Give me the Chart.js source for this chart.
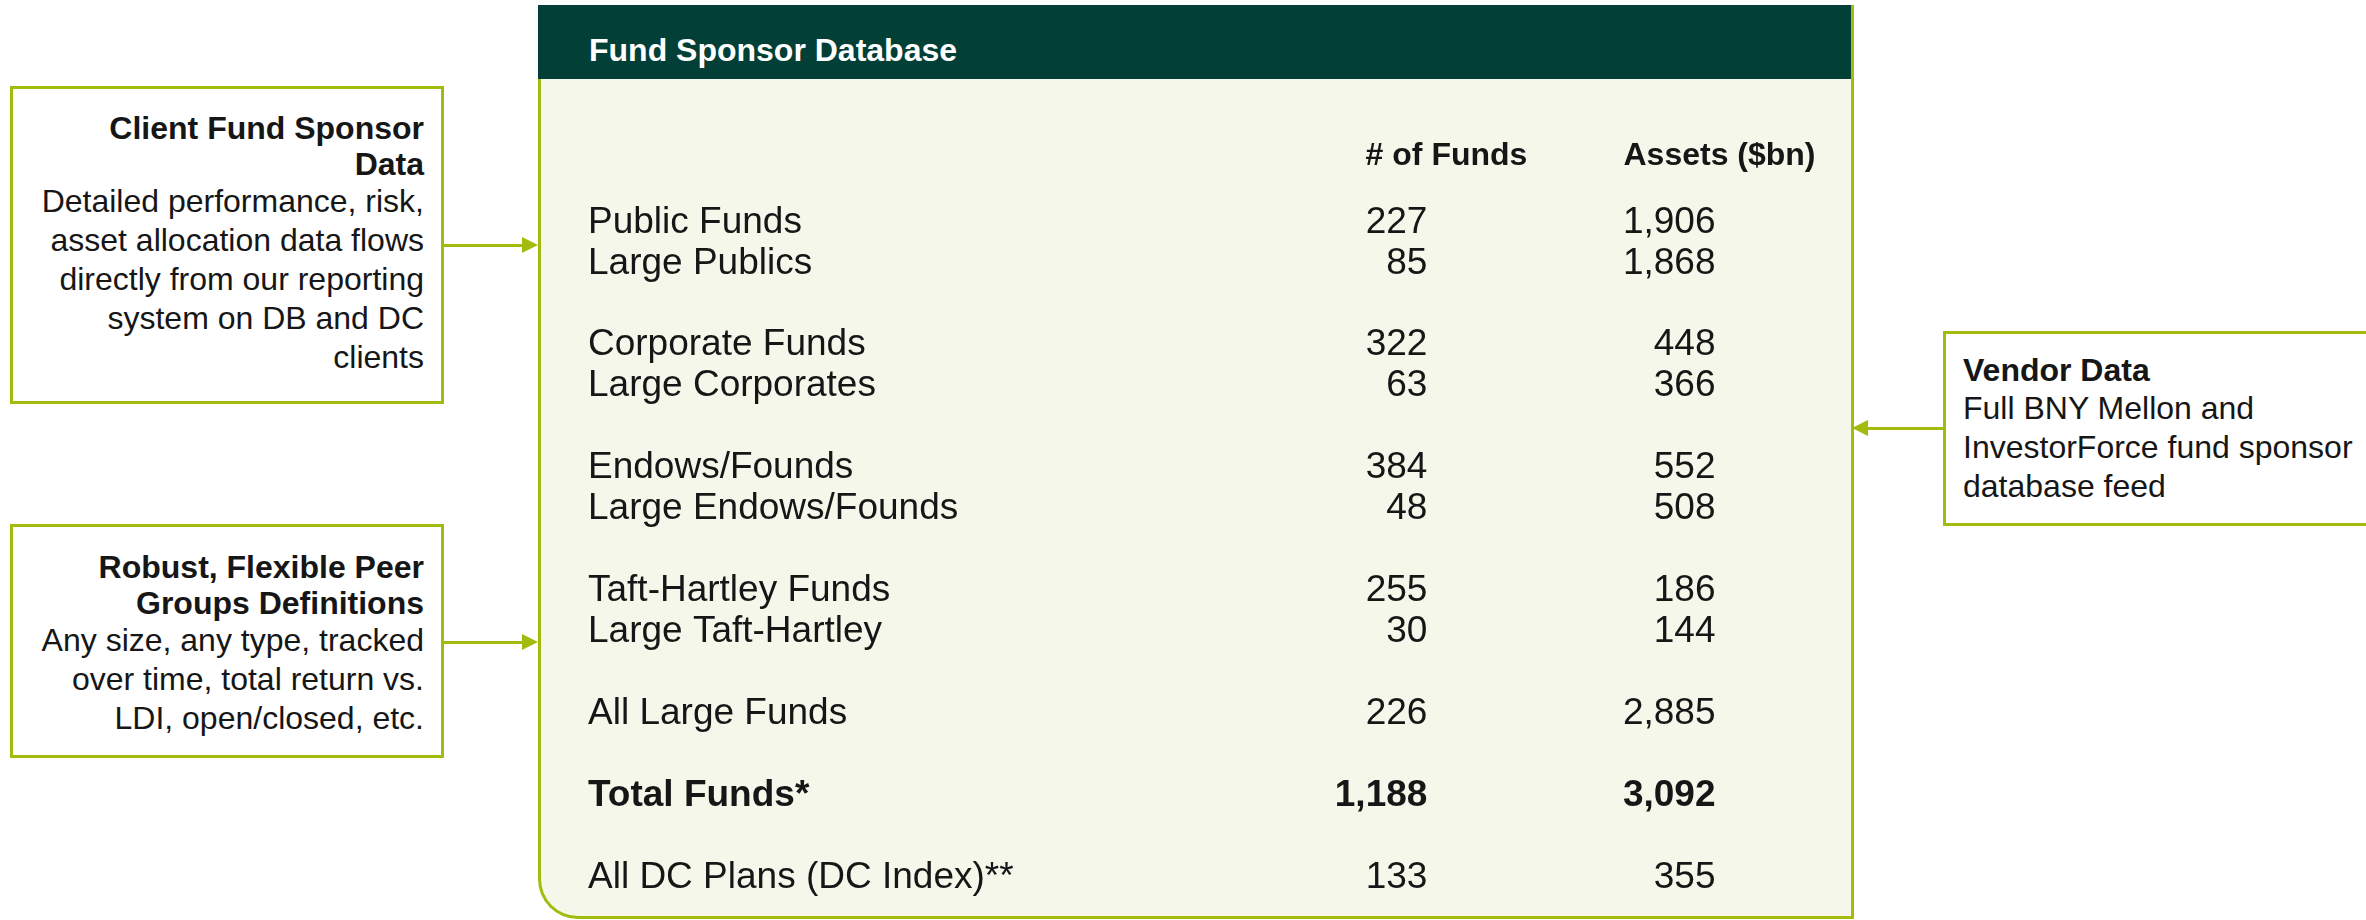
<!DOCTYPE html>
<html>
<head>
<meta charset="utf-8">
<script src="https://cdn.jsdelivr.net/npm/chart.js@4.4.1/dist/chart.umd.min.js"></script>
<style>
  html, body { margin: 0; padding: 0; background: #fff; }
  body { width: 2366px; height: 920px; position: relative; overflow: hidden;
         font-family: "Liberation Sans", Arial, sans-serif; color: #161616; }
  .box { position: absolute; box-sizing: border-box; border: 3px solid #a2bb0c; background: #fff; font-size: 32px; }
  .box b { display: block; line-height: 36px; }
  .box span { display: block; line-height: 39px; }
  .line { position: absolute; height: 3px; background: #a2bb0c; }
  .head-r { position: absolute; width: 0; height: 0; border-left: 16px solid #a2bb0c;
            border-top: 8px solid transparent; border-bottom: 8px solid transparent; }
  .head-l { position: absolute; width: 0; height: 0; border-right: 16px solid #a2bb0c;
            border-top: 8px solid transparent; border-bottom: 8px solid transparent; }
  #panel { position: absolute; left: 538px; top: 5px; width: 1316px; height: 914px; box-sizing: border-box;
           background: #f4f7ea; border: 3px solid #a2bb0c; border-top: none; border-bottom-left-radius: 40px; }
  #panel .title { position: absolute; left: -3px; right: 0; top: 0; height: 74px; background: #023f36; }
  #panel .title div { position: absolute; left: 51px; top: 27px; line-height: 36px; color: #fff;
                      font-size: 32px; font-weight: bold; }
  #wrap { position: absolute; left: 0; top: 0; width: 2366px; height: 920px; }
</style>
</head>
<body>

<div class="box" style="left:10px; top:86px; width:434px; height:318px; padding:21px 17px 0 0; text-align:right;">
  <b>Client Fund Sponsor</b><b>Data</b>
  <span>Detailed performance, risk,</span>
  <span>asset allocation data flows</span>
  <span>directly from our reporting</span>
  <span>system on DB and DC</span>
  <span>clients</span>
</div>
<div class="line" style="left:444px; top:244px; width:80px;"></div>
<div class="head-r" style="left:522px; top:237px;"></div>

<div class="box" style="left:10px; top:524px; width:434px; height:234px; padding:22px 17px 0 0; text-align:right;">
  <b>Robust, Flexible Peer</b><b>Groups Definitions</b>
  <span>Any size, any type, tracked</span>
  <span>over time, total return vs.</span>
  <span>LDI, open/closed, etc.</span>
</div>
<div class="line" style="left:444px; top:641px; width:80px;"></div>
<div class="head-r" style="left:522px; top:634px;"></div>

<div class="box" style="left:1943px; top:331px; width:500px; height:195px; padding:18px 0 0 17px; text-align:left;">
  <b style="line-height:37px;">Vendor Data</b>
  <span>Full BNY Mellon and</span>
  <span>InvestorForce fund sponsor</span>
  <span>database feed</span>
</div>
<div class="line" style="left:1866px; top:427px; width:78px;"></div>
<div class="head-l" style="left:1852px; top:420px;"></div>

<div id="panel">
  <div class="title"><div>Fund Sponsor Database</div></div>
</div>

<div id="wrap"><canvas id="tableChart"></canvas></div>

<script>
// table contents
const columns = ['# of Funds', 'Assets ($bn)'];
const categories = ['Public Funds', 'Large Publics', 'Corporate Funds', 'Large Corporates',
    'Endows/Founds', 'Large Endows/Founds', 'Taft-Hartley Funds', 'Large Taft-Hartley',
    'All Large Funds', 'Total Funds*', 'All DC Plans (DC Index)**'];
const numFunds = [227, 85, 322, 63, 384, 48, 255, 30, 226, 1188, 133];
const assetsBn = [1906, 1868, 448, 366, 552, 508, 186, 144, 2885, 3092, 355];
// rows grouped together, an empty row between groups
const groups = [[0, 1], [2, 3], [4, 5], [6, 7], [8], [9], [10]];
const totalRow = 'Total Funds*';

const family = '"Liberation Sans", Arial, sans-serif';
const textColor = '#161616';

const rowLabels = [];
groups.forEach((g, gi) => {
    if (gi > 0) rowLabels.push('');
    g.forEach(i => rowLabels.push(categories[i]));
});

Chart.defaults.font.family = family;
Chart.defaults.color = textColor;

const cellText = {
    id: 'cellText',
    afterDatasetsDraw(chart) {
        const ctx = chart.ctx;
        ctx.save();
        ctx.font = 'bold 32px ' + family;
        const headW = columns.map(c => ctx.measureText(c).width);
        ctx.fillStyle = textColor;
        ctx.textAlign = 'right';
        ctx.textBaseline = 'middle';
        chart.data.datasets.forEach((ds, di) => {
            chart.getDatasetMeta(di).data.forEach((pt, i) => {
                const bold = categories[i] === totalRow;
                ctx.font = (bold ? 'bold ' : '') + '37px ' + family;
                ctx.fillText(ds.data[i].v.toLocaleString('en-US'), pt.x + headW[di] / 2 - 100, pt.y);
            });
        });
        ctx.restore();
    }
};

const ctx = document.getElementById('tableChart').getContext('2d');
new Chart(ctx, {
    type: 'line',
    data: {
        datasets: [
            {
                label: columns[0],
                data: categories.map((c, i) => ({ x: columns[0], y: c, v: numFunds[i] })),
                showLine: false,
                pointRadius: 0,
            },
            {
                label: columns[1],
                data: categories.map((c, i) => ({ x: columns[1], y: c, v: assetsBn[i] })),
                showLine: false,
                pointRadius: 0,
            },
        ],
    },
    options: {
        responsive: true,
        maintainAspectRatio: false,
        animation: false,
        devicePixelRatio: 1,
        layout: { padding: { top: 112, bottom: 6, left: 588, right: 510 } },
        plugins: {
            legend: { display: false },
            tooltip: { enabled: false },
        },
        scales: {
            x: {
                type: 'category',
                labels: columns,
                position: 'top',
                offset: true,
                grid: { display: false, drawTicks: false },
                border: { display: false },
                ticks: {
                    autoSkip: false,
                    maxRotation: 0,
                    padding: 27,
                    color: textColor,
                    font: { size: 32, weight: 'bold' },
                },
                afterFit: s => { s.height = 90; },
            },
            y: {
                type: 'category',
                labels: rowLabels,
                offset: true,
                grid: { display: false, drawTicks: false },
                border: { display: false },
                ticks: {
                    autoSkip: false,
                    crossAlign: 'far',
                    padding: 0,
                    color: textColor,
                    font: c => ({ size: 37, weight: c.tick && c.tick.label === totalRow ? 'bold' : 'normal' }),
                },
                afterFit: s => { s.width = 722; },
            },
        },
    },
    plugins: [cellText],
});
</script>
</body>
</html>
